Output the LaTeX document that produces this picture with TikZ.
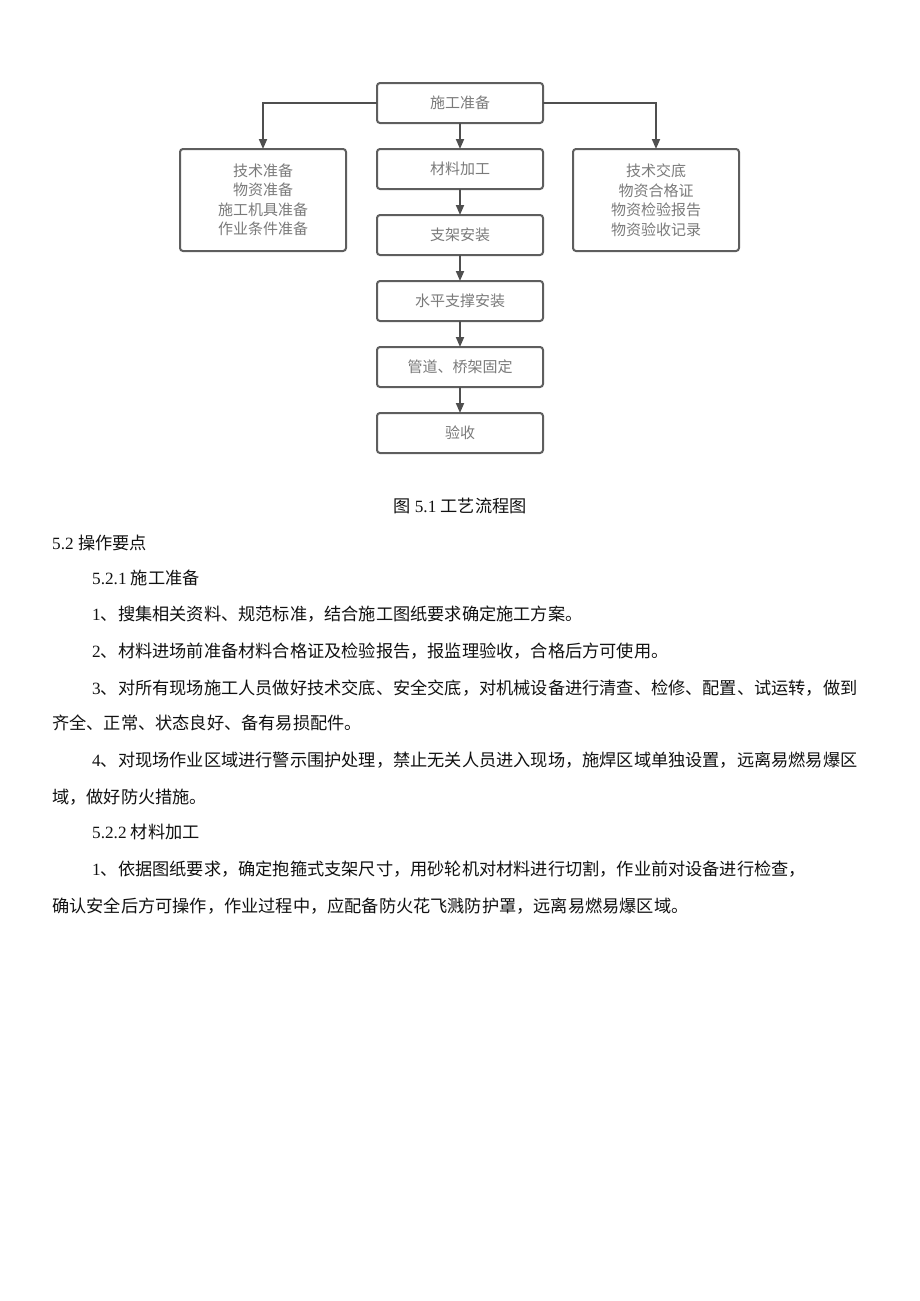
\documentclass[tikz,border=0pt]{standalone}
\usepackage{fontspec}
\setmainfont{Liberation Serif}
\newfontfamily\cjk{Noto Sans CJK SC}
\usepackage{xcolor}
\definecolor{BoxLine}{HTML}{5E5E5E}
\definecolor{BoxText}{HTML}{7A7A7A}
\definecolor{ArrowLine}{HTML}{4F4F4F}
\definecolor{BodyText}{HTML}{111111}
\usetikzlibrary{positioning,arrows.meta}
\tikzset{
  stepbox/.style={draw=BoxLine,line width=2pt,rounded corners=3pt,minimum width=166pt,
    minimum height=40pt,inner sep=0pt,outer sep=0pt,align=center,
    font=\cjk\fontsize{15}{19.5}\selectfont,text=BoxText},
  sidebox/.style={stepbox,minimum height=102pt},
  flow/.style={-{Triangle[length=10pt,width=8pt]},draw=ArrowLine,line width=1.8pt},
  para/.style={anchor=base west,inner sep=0pt,font=\fontsize{17.2}{20}\selectfont,text=BodyText},
}
\newcommand{\zh}[1]{{\cjk #1}}

\begin{document}
\begin{tikzpicture}[x=1pt,y=-1pt]
\useasboundingbox (0,0) rectangle (920,1301);
% main column
\node[stepbox] (prep) at (460,103) {施工准备};
\node[stepbox,below=26pt of prep] (proc) {材料加工};
\node[stepbox,below=26pt of proc] (frame) {支架安装};
\node[stepbox,below=26pt of frame] (brace) {水平支撑安装};
\node[stepbox,below=26pt of brace] (fix) {管道、桥架固定};
\node[stepbox,below=26pt of fix] (accept) {验收};

% side boxes
\node[sidebox,anchor=north] (readyL) at (263,149)
  {技术准备\\物资准备\\施工机具准备\\作业条件准备};
\node[sidebox,anchor=north] (readyR) at (656,149)
  {技术交底\\物资合格证\\物资检验报告\\物资验收记录};

% connectors
\draw[flow] (prep.west) -| (readyL.north);
\draw[flow] (prep.east) -| (readyR.north);
\foreach \a/\b in {prep/proc,proc/frame,frame/brace,brace/fix,fix/accept}{
  \draw[flow] (\a) -- (\b);}

% caption and text
\node[para,anchor=base] (cap) at (460,512.5) {\zh{图} 5.1 \zh{工艺流程图}};
\node[para] (h52) at (52,549.5) {5.2 \zh{操作要点}};
\node[para] (h521) at (92,584.5) {5.2.1 \zh{施工准备}};
\node[para] (p1) at (92,620.5) {1\zh{、搜集相关资料、规范标准，结合施工图纸要求确定施工方案。}};
\node[para] (p2) at (92,657.5) {2\zh{、材料进场前准备材料合格证及检验报告，报监理验收，合格后方可使用。}};
\node[para] (p3) at (92,694.5) {3\zh{、对所有现场施工人员做好技术交底、安全交底，对机械设备进行清查、检修、配置、试运转，做到}};
\node[para] (p3b) at (52,729.5) {\zh{齐全、正常、状态良好、备有易损配件。}};
\node[para] (p4) at (92,766.5) {4\zh{、对现场作业区域进行警示围护处理，禁止无关人员进入现场，施焊区域单独设置，远离易燃易爆区}};
\node[para] (p4b) at (52,803.5) {\zh{域，做好防火措施。}};
\node[para] (h522) at (92,838.5) {5.2.2 \zh{材料加工}};
\node[para] (q1) at (92,875.5) {1\zh{、依据图纸要求，确定抱箍式支架尺寸，用砂轮机对材料进行切割，作业前对设备进行检查，}};
\node[para] (q1b) at (52,912.5) {\zh{确认安全后方可操作，作业过程中，应配备防火花飞溅防护罩，远离易燃易爆区域。}};
\end{tikzpicture}
\end{document}
